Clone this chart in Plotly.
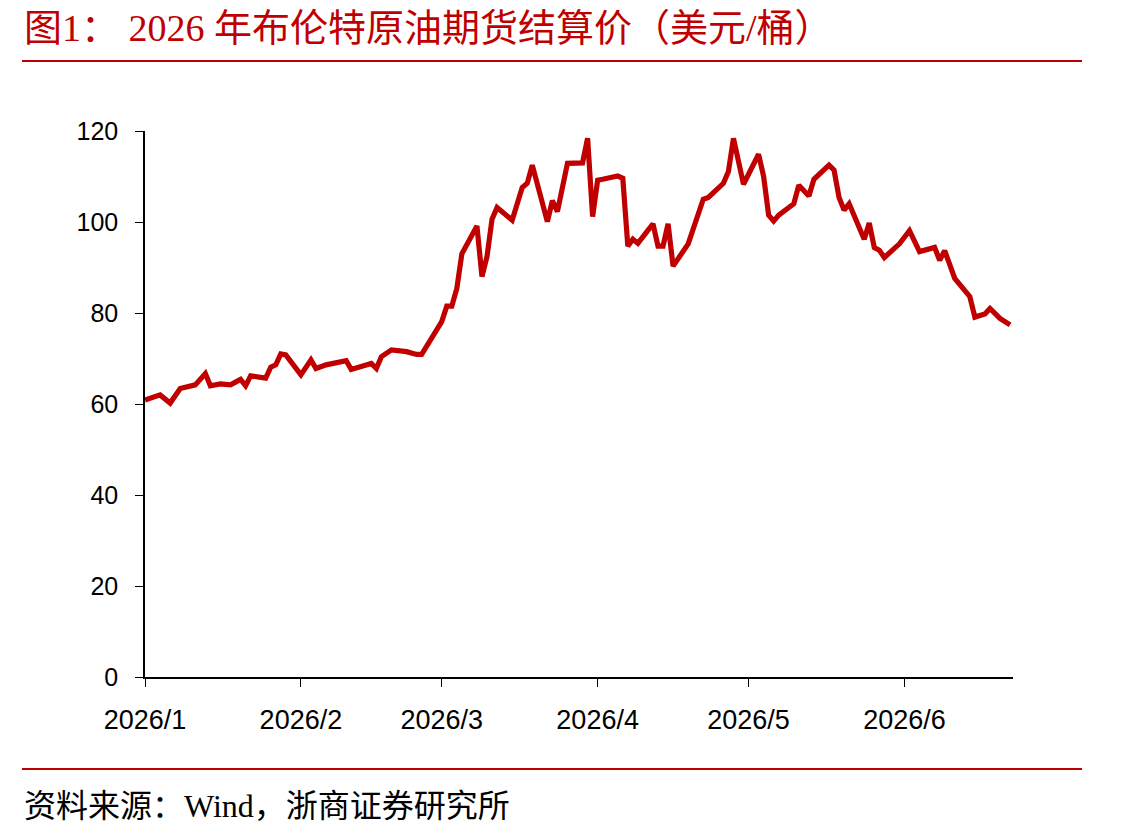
import plotly.graph_objects as go

dates = [
    "2026-01-01", "2026-01-04", "2026-01-06", "2026-01-08", "2026-01-11", "2026-01-13", "2026-01-14",
    "2026-01-16", "2026-01-18", "2026-01-20", "2026-01-21", "2026-01-22", "2026-01-25", "2026-01-26",
    "2026-01-27", "2026-01-28", "2026-01-29", "2026-02-01", "2026-02-03", "2026-02-04", "2026-02-06",
    "2026-02-09", "2026-02-10", "2026-02-11", "2026-02-15", "2026-02-16", "2026-02-17", "2026-02-19",
    "2026-02-22", "2026-02-24", "2026-02-25", "2026-03-01", "2026-03-02", "2026-03-03", "2026-03-04",
    "2026-03-05", "2026-03-08", "2026-03-09", "2026-03-10", "2026-03-11", "2026-03-12", "2026-03-15",
    "2026-03-17", "2026-03-18", "2026-03-19", "2026-03-22", "2026-03-23", "2026-03-24", "2026-03-26",
    "2026-03-29", "2026-03-30", "2026-03-31", "2026-04-01", "2026-04-02", "2026-04-05", "2026-04-06",
    "2026-04-07", "2026-04-08", "2026-04-09", "2026-04-12", "2026-04-13", "2026-04-14", "2026-04-15",
    "2026-04-16", "2026-04-19", "2026-04-22", "2026-04-23", "2026-04-26", "2026-04-27", "2026-04-28",
    "2026-04-30", "2026-05-03", "2026-05-04", "2026-05-05", "2026-05-06", "2026-05-07", "2026-05-10",
    "2026-05-11", "2026-05-13", "2026-05-14", "2026-05-17", "2026-05-18", "2026-05-19", "2026-05-20",
    "2026-05-21", "2026-05-24", "2026-05-25", "2026-05-26", "2026-05-27", "2026-05-28", "2026-05-31",
    "2026-06-02", "2026-06-04", "2026-06-07", "2026-06-08", "2026-06-09", "2026-06-11", "2026-06-14",
    "2026-06-15", "2026-06-17", "2026-06-18", "2026-06-20", "2026-06-22",
]

brent = [
    60.9, 62.0, 60.2, 63.4, 64.2, 66.7, 64.0,
    64.4, 64.2, 65.4, 64.0, 66.2, 65.7, 68.1,
    68.6, 71.0, 70.8, 66.4, 69.7, 67.8, 68.6,
    69.2, 69.5, 67.6, 68.9, 67.8, 70.4, 71.9,
    71.5, 70.9, 70.9, 78.1, 81.5, 81.5, 85.4,
    93.0, 99.1, 88.0, 92.4, 100.6, 103.2, 100.4,
    107.6, 108.5, 112.5, 100.1, 104.7, 102.3, 112.9,
    113.0, 118.4, 101.2, 109.2, 109.4, 110.1, 109.6,
    94.7, 96.2, 95.3, 99.6, 94.7, 94.7, 99.6,
    90.3, 95.2, 105.0, 105.4, 108.5, 111.1, 118.4,
    108.3, 114.9, 110.0, 101.5, 100.2, 101.5, 104.0,
    108.1, 105.7, 109.4, 112.5, 111.4, 105.4, 102.6,
    104.0, 96.2, 99.8, 94.4, 93.8, 92.2, 95.2,
    98.1, 93.5, 94.4, 91.6, 93.7, 87.6, 83.6,
    79.1, 79.8, 81.0, 78.8, 77.4,
]

x_tickvals = ["2026-01-01", "2026-02-01", "2026-03-01", "2026-04-01", "2026-05-01", "2026-06-01"]
x_ticktext = ["2026/1", "2026/2", "2026/3", "2026/4", "2026/5", "2026/6"]
y_tickvals = [0, 20, 40, 60, 80, 100, 120]

title_text = "图1： 2026 年布伦特原油期货结算价（美元/桶）"
source_text = "资料来源：Wind，浙商证券研究所"

RED = "#C00000"
CJK = "Liberation Serif, 'Noto Sans CJK SC', serif"

fig = go.Figure()
fig.add_trace(go.Scatter(
    x=dates, y=brent, mode="lines",
    line=dict(color=RED, width=5.2),
    hoverinfo="skip", showlegend=False,
))

fig.update_layout(
    width=1141, height=838,
    margin=dict(l=145, r=128, t=131, b=161),
    paper_bgcolor="white", plot_bgcolor="white",
    xaxis=dict(
        range=["2026-01-01", "2026-06-22 14:00"],
        tickvals=x_tickvals, ticktext=x_ticktext,
        showgrid=False, zeroline=False,
        showline=True, linecolor="black", linewidth=1.5,
        ticks="outside", ticklen=8, tickwidth=1.3, tickcolor="black",
        ticklabelstandoff=10,
        tickfont=dict(family="Liberation Sans, Arial", size=27, color="black"),
    ),
    yaxis=dict(
        range=[0, 120], tickvals=y_tickvals,
        showgrid=False, zeroline=False,
        showline=True, linecolor="black", linewidth=1.5,
        ticks="outside", ticklen=8, tickwidth=1.3, tickcolor="black",
        ticklabelstandoff=12,
        tickfont=dict(family="Liberation Sans, Arial", size=25, color="black"),
    ),
    shapes=[
        dict(type="line", xref="paper", yref="paper", x0=-0.1417, x1=1.0795, y0=1.1282, y1=1.1282,
             line=dict(color=RED, width=2.2)),
        dict(type="line", xref="paper", yref="paper", x0=-0.1417, x1=1.0795, y0=-0.1685, y1=-0.1685,
             line=dict(color=RED, width=2.2)),
    ],
    annotations=[
        dict(text=title_text, xref="paper", yref="paper", x=-0.1417, y=1.1886,
             xanchor="left", yanchor="middle", showarrow=False,
             font=dict(family=CJK, size=38, color=RED)),
        dict(text=source_text, xref="paper", yref="paper", x=-0.1417, y=-0.2363,
             xanchor="left", yanchor="middle", showarrow=False,
             font=dict(family=CJK, size=32, color="black")),
    ],
)

fig.write_html("out.html")
